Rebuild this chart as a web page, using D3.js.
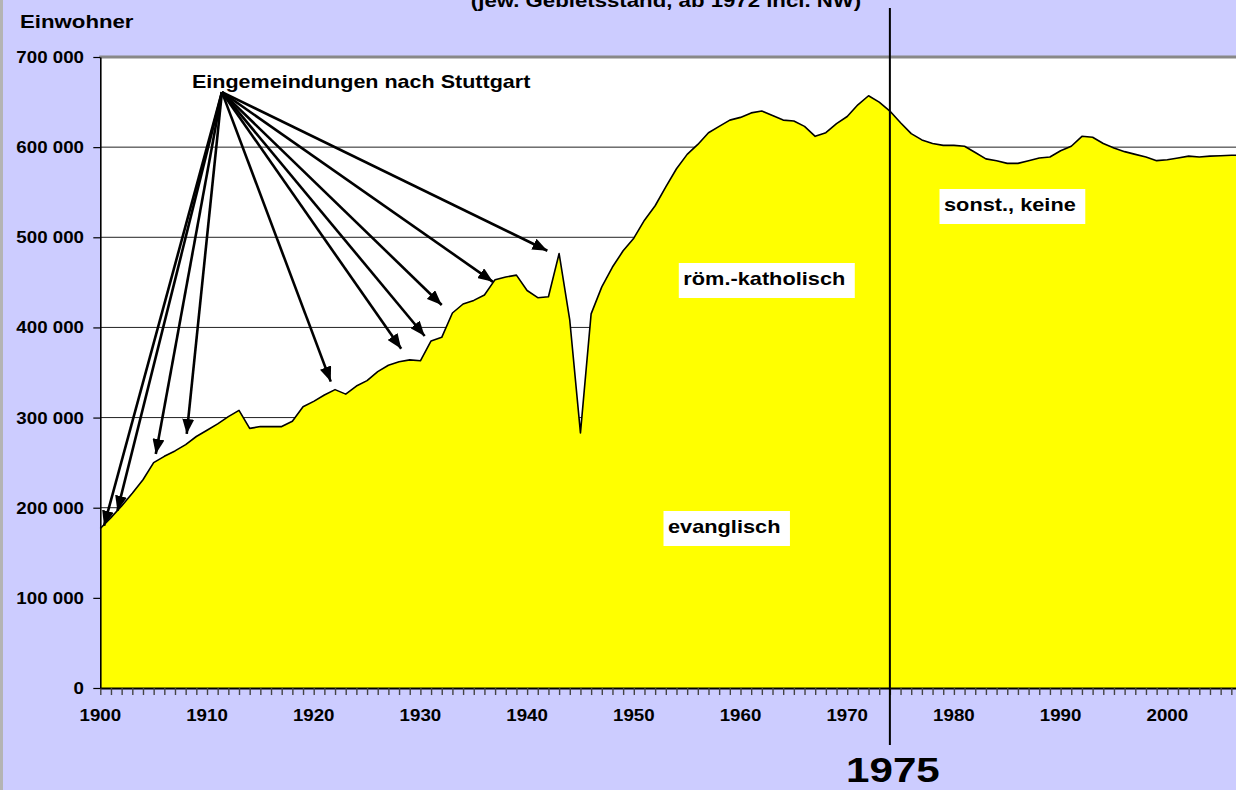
<!DOCTYPE html>
<html>
<head>
<meta charset="utf-8">
<script src="https://cdn.jsdelivr.net/npm/d3@7"></script>
<style>
  body { margin: 0; background: #ccccff; }
  svg text { font-family: "Liberation Sans", Arial, sans-serif; font-weight: bold; fill: #000; }
</style>
</head>
<body>
<div id="chart"></div>
<script>
// population of Stuttgart, one value per year
var years = d3.range(1900, 2008);
var population = [
  177000, 189000, 202000, 216000, 231000, 250000, 257000, 263000, 270000, 279000,
  286000, 293000, 301000, 308000, 288000, 290000, 290000, 290000, 296000, 312000,
  318000, 325000, 331000, 326000, 335000, 341000, 351000, 358000, 362000, 364000,
  363000, 385000, 389000, 416000, 426000, 430000, 436000, 453000, 456000, 458000,
  441000, 433000, 434000, 482000, 408000, 283000, 415000, 445000, 467000, 485000,
  499000, 519000, 535000, 556000, 576000, 592000, 603000, 616000, 623000, 630000,
  633000, 638000, 640000, 635000, 630000, 629000, 623000, 612000, 616000, 626000,
  634000, 647000, 657000, 650000, 640000, 627000, 615000, 608000, 604000, 602000,
  602000, 601000, 594000, 587000, 585000, 582000, 582000, 585000, 588000, 589000,
  596000, 601000, 612000, 611000, 604000, 599000, 595000, 592000, 589000, 585000,
  586000, 588000, 590000, 589000, 590000, 590500, 591000, 591000
];
var yTicks = [0, 100000, 200000, 300000, 400000, 500000, 600000, 700000];
var xLabelYears = [1900, 1910, 1920, 1930, 1940, 1950, 1960, 1970, 1980, 1990, 2000];

// arrows "Eingemeindungen nach Stuttgart": common start and the tips
var arrowStart = [1911.4, 661000];
var arrowYears  = [1900.35, 1901.6, 1905.2, 1908.1, 1921.6, 1928.2, 1930.4, 1932.0, 1936.8, 1941.9];
var arrowValues = [180000, 196600, 259600, 281800, 339900, 376300, 390500, 424900, 450600, 485100];

var W = 1236, H = 790;
var SX = 1.17; // the original text is a bit stretched horizontally

var plotLeft = 100.3, plotTop = 57, plotBottom = 688, step = 10.67;

var svg = d3.select("#chart").append("svg")
    .attr("width", W)
    .attr("height", H);

var x = d3.scaleLinear()
    .domain([1900, 2007])
    .range([plotLeft, plotLeft + 107 * step]);
var y = d3.scaleLinear()
    .domain([0, 700000])
    .range([plotBottom, plotTop]);

function label(sel, px, py, txt, size, anchor) {
    return sel.append("text")
        .attr("transform", "translate(" + px + "," + py + ") scale(" + SX + ",1)")
        .attr("text-anchor", anchor || "start")
        .style("font-size", size + "px")
        .text(txt);
}

// background
svg.append("rect").attr("width", W).attr("height", H).attr("fill", "#ccccff");
svg.append("rect").attr("width", 3).attr("height", H).attr("fill", "#b4b4b4");

// plot area
svg.append("rect")
    .attr("x", plotLeft).attr("y", plotTop)
    .attr("width", W - plotLeft + 20).attr("height", plotBottom - plotTop)
    .attr("fill", "#fff");

// gridlines
svg.append("g")
    .selectAll("line")
    .data(yTicks.slice(1, -1))
    .enter()
    .append("line")
    .attr("x1", plotLeft).attr("x2", W)
    .attr("y1", function (d) { return y(d); })
    .attr("y2", function (d) { return y(d); })
    .attr("stroke", "#222")
    .attr("stroke-width", 1);

var data = years.map(function (yr, i) { return { year: yr, value: population[i] }; });

var area = d3.area()
    .x(function (d) { return x(d.year); })
    .y0(y(0))
    .y1(function (d) { return y(d.value); });
var line = d3.line()
    .x(function (d) { return x(d.year); })
    .y(function (d) { return y(d.value); });

svg.append("path").datum(data).attr("d", area).attr("fill", "#ffff00");
svg.append("path").datum(data).attr("d", line)
    .attr("fill", "none").attr("stroke", "#000").attr("stroke-width", 1.6)
    .attr("stroke-linejoin", "round");

// top border of the plot area
svg.append("line")
    .attr("x1", plotLeft - 1).attr("x2", W)
    .attr("y1", plotTop).attr("y2", plotTop)
    .attr("stroke", "#888").attr("stroke-width", 3);

// X axis
var xAxis = svg.append("g")
    .attr("transform", "translate(0," + plotBottom + ")")
    .call(d3.axisBottom(x).tickValues(years).tickSize(7).tickSizeOuter(0).tickFormat(""));
xAxis.select(".domain").attr("stroke", "#000").attr("stroke-width", 2);
xAxis.selectAll(".tick line").attr("stroke", "#444").attr("stroke-width", 1.4);

var xLab = svg.append("g");
xLabelYears.forEach(function (yr) {
    label(xLab, x(yr), 721, String(yr), 16, "middle");
});

// Y axis
var yAxis = svg.append("g")
    .attr("transform", "translate(" + plotLeft + ",0)")
    .call(d3.axisLeft(y).tickValues(yTicks).tickSize(7).tickSizeOuter(0).tickFormat(""));
yAxis.select(".domain").attr("stroke", "#000").attr("stroke-width", 1.6);
yAxis.selectAll(".tick line").attr("stroke", "#000").attr("stroke-width", 1.2);

var yLab = svg.append("g");
yTicks.forEach(function (v) {
    var s = d3.format(",")(v).replace(/,/g, " ");
    label(yLab, 84, y(v) + 6, s, 16, "end");
});

label(svg, 20, 28, "Einwohner", 19);
label(svg, 666, 7, "(jew. Gebietsstand, ab 1972 incl. NW)", 19, "middle");

// arrows
var defs = svg.append("defs");
defs.append("marker")
    .attr("id", "arr")
    .attr("viewBox", "0 0 15 12")
    .attr("refX", 15).attr("refY", 6)
    .attr("markerWidth", 15).attr("markerHeight", 12)
    .attr("markerUnits", "userSpaceOnUse")
    .attr("orient", "auto")
    .append("path").attr("d", "M0,0L15,6L0,12Z").attr("fill", "#000");

svg.append("g")
    .selectAll("line")
    .data(arrowYears)
    .enter()
    .append("line")
    .attr("x1", x(arrowStart[0]))
    .attr("y1", y(arrowStart[1]))
    .attr("x2", function (d) { return x(d); })
    .attr("y2", function (d, i) { return y(arrowValues[i]); })
    .attr("stroke", "#000")
    .attr("stroke-width", 2.6)
    .attr("marker-end", "url(#arr)");

label(svg, 192, 88, "Eingemeindungen nach Stuttgart", 18.4);

// labels with white boxes
function boxLabel(px, py, txt) {
    var g = svg.append("g");
    var r = g.append("rect").attr("fill", "#fff");
    var t = label(g, px, py, txt, 18.6);
    var b = t.node().getBoundingClientRect();
    r.attr("x", px - 4.5).attr("y", py - 22)
        .attr("width", b.width + 14).attr("height", 35);
}
boxLabel(683.3, 285, "röm.-katholisch");
boxLabel(944, 211, "sonst., keine");
boxLabel(668, 533, "evanglisch");

// marker line 1975
svg.append("line")
    .attr("x1", x(1974)).attr("x2", x(1974))
    .attr("y1", 8).attr("y2", 745)
    .attr("stroke", "#000").attr("stroke-width", 2);
label(svg, x(1974) + 3, 782, "1975", 36, "middle");
</script>
</body>
</html>
